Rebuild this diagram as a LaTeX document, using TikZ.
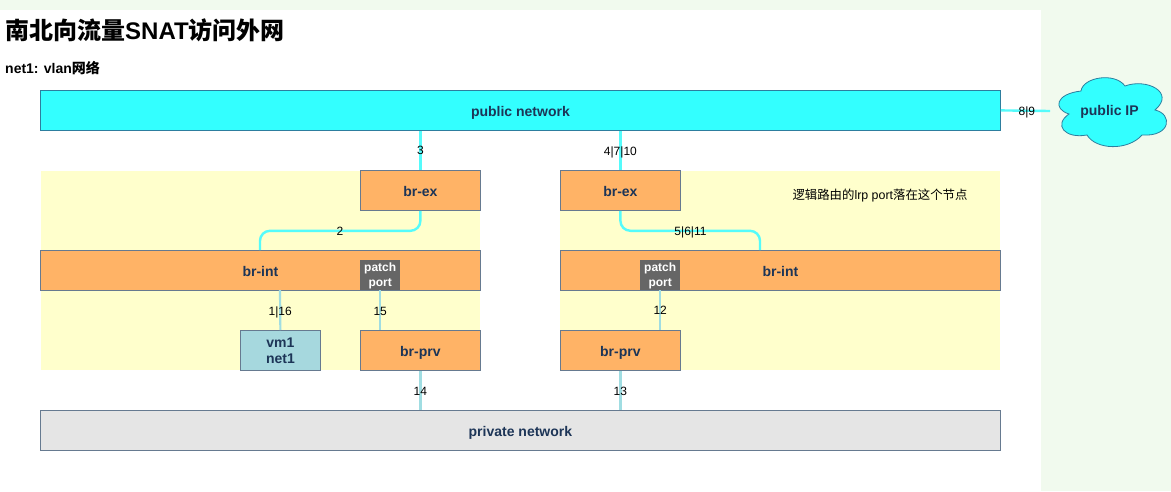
\documentclass[tikz,border=0pt]{standalone}
\usepackage{fontspec}
\setmainfont{Liberation Sans}
\newfontfamily\cjk{Noto Sans CJK SC}
\definecolor{pagebg}{HTML}{F1FAEE}
\definecolor{zone}{HTML}{FFFFCC}
\definecolor{sw}{HTML}{FFB366}
\definecolor{cy}{HTML}{33FFFF}
\definecolor{edgeline}{HTML}{667A90}
\definecolor{cyedge}{HTML}{2D7E9E}
\definecolor{ink}{HTML}{1D3557}
\definecolor{link}{HTML}{55FBFB}
\definecolor{paleLink}{HTML}{A0DDE2}
\definecolor{vmfill}{HTML}{A6D8DE}
\tikzset{
  x=1pt,y=-1pt,
  boxbase/.style={draw=edgeline,line width=0.8pt,anchor=north west,inner sep=0pt,align=center,text=ink,font=\fontsize{14}{16}\selectfont\bfseries},
  oneline/.style={text height=11.5pt,text depth=0pt},
  switch/.style={boxbase,oneline,fill=sw},
  wide/.style={boxbase,oneline,minimum width=960pt,minimum height=40pt},
  patch/.style={fill=black!60,anchor=north west,minimum width=40pt,minimum height=30pt,inner sep=0pt,align=center,text=white,font=\fontsize{12}{15}\selectfont\bfseries},
  wire/.style={link,line width=2.4pt,rounded corners=10pt},
  palewire/.style={paleLink,line width=2.2pt},
  elabel/.style={font=\fontsize{12}{14}\selectfont,text=black,inner sep=0pt,text height=9pt,text depth=0pt},
  note/.style={anchor=west,inner sep=0pt,text=black}
}
\begin{document}
\begin{tikzpicture}
\useasboundingbox (0,0) rectangle (1171,491);
\fill[pagebg] (0,0) rectangle (1171,491);
\fill[white] (0,10) rectangle (1041,491);
\fill[zone] (41,171) rectangle (480,370);
\fill[zone] (560,171) rectangle (1000,370);

\node[note,font=\fontsize{24}{28}\selectfont\bfseries] (title) at (5,30) {{\cjk 南北向流量}SNAT{\cjk 访问外网}};
\node[note,font=\fontsize{14}{16}\selectfont\bfseries] (sub) at (5,68) {net1: vlan{\cjk 网络}};
\node[note,font=\fontsize{12.4}{14}\selectfont,anchor=center] (lrp) at (880,196) {{\cjk 逻辑路由的}lrp port{\cjk 落在这个节点}};

\node[wide,fill=cy,draw=cyedge] (pub) at (40,90) {public network};
\node[wide,fill=black!10] (priv) at (40,410) {private network};
\node[switch,minimum width=120pt,minimum height=40pt] (exL) at (360,170) {br-ex};
\node[switch,minimum width=120pt,minimum height=40pt] (exR) at (560,170) {br-ex};
\node[switch,minimum width=440pt,minimum height=40pt] (intL) at (40,250) {br-int};
\node[switch,minimum width=440pt,minimum height=40pt] (intR) at (560,250) {br-int};
\node[switch,minimum width=120pt,minimum height=40pt] (prvL) at (360,330) {br-prv};
\node[switch,minimum width=120pt,minimum height=40pt] (prvR) at (560,330) {br-prv};
\node[boxbase,fill=vmfill,minimum width=80pt,minimum height=40pt] (vm) at (240,330) {vm1\\net1};
\node[patch] (patchL) at (360,260) {\rule{0pt}{10.7pt}patch\\port};
\node[patch] (patchR) at (640,260) {\rule{0pt}{10.7pt}patch\\port};

% public IP cloud
\draw[fill=cy,draw=cyedge,line width=0.8pt]
  (1069,114) .. controls (1053,109) and (1055,94) .. (1081,91)
  .. controls (1083,77) and (1115,72) .. (1125,86)
  .. controls (1146,78) and (1176,92) .. (1155,110)
  .. controls (1173,114) and (1171,137) .. (1142,135)
  .. controls (1128,151) and (1096,150) .. (1087,135)
  .. controls (1065,139) and (1053,125) .. (1069,114) -- cycle;
\node[text=ink,inner sep=0pt,font=\fontsize{14}{16}\selectfont\bfseries] (ip) at (1109.5,111.5) {public IP};
\coordinate (ipEnd) at (1050,111);

% connectors
\draw[wire] (pub.east) -- (ipEnd) node[elabel,pos=0.53] (l89) {8|9};
\draw[wire] (pub.south -| exL.north) -- (exL.north) node[elabel,midway] (l3) {3};
\draw[wire] (pub.south -| exR.north) -- (exR.north) node[elabel,midway,yshift=-1pt] (l4) {4|7|10};
\coordinate (intLtap) at (260,250);
\coordinate (intRtap) at (760,250);
\draw[wire] (exL.south) -- ++(0,20) -| (intLtap);
\node[elabel] (l2) at (340,231) {2};
\draw[wire] (exR.south) -- ++(0,20) -| (intRtap);
\node[elabel] (l5) at (690.5,231) {5|6|11};
\coordinate (intLvm) at (280,290);
\draw[palewire] (intLvm) -- (vm.north) node[elabel,midway,yshift=-1pt] (l1) {1|16};
\draw[palewire] (patchL.south) -- (patchL.south |- prvL.north) node[elabel,midway,yshift=-1pt] (l15) {15};
\draw[palewire] (patchR.south) -- (patchR.south |- prvR.north) node[elabel,midway] (l12) {12};
\draw[palewire] (prvL.south) -- (prvL.south |- priv.north) node[elabel,midway,yshift=-1pt] (l14) {14};
\draw[palewire] (prvR.south) -- (prvR.south |- priv.north) node[elabel,midway,yshift=-1pt] (l13) {13};
\end{tikzpicture}
\end{document}
